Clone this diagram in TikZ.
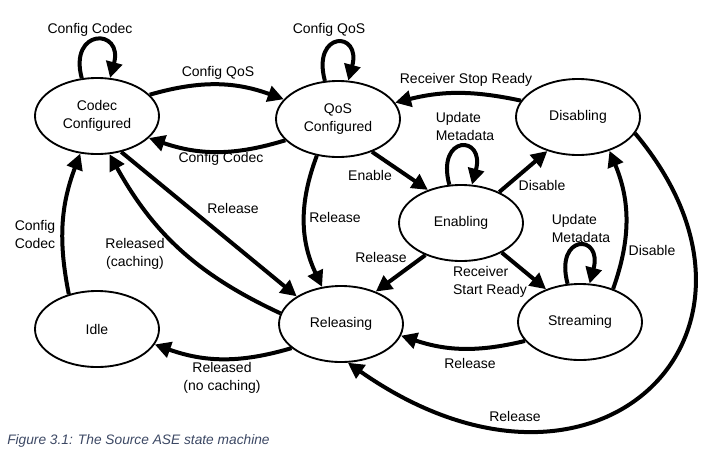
\documentclass[tikz,border=0pt]{standalone}
\usepackage{fontspec}
\setmainfont{Liberation Sans}
\usetikzlibrary{shapes.geometric,arrows.meta}
\definecolor{captionblue}{RGB}{60,72,100}

\begin{document}
\begin{tikzpicture}[x=0.75pt,y=-0.75pt,
  font=\fontsize{10.5}{13.5}\selectfont,
  state/.style={ellipse,draw,line width=1.4pt,minimum width=93pt,minimum height=57pt,inner sep=0pt,align=center},
  trans/.style={-{Triangle[length=12pt,width=12pt]},line width=3pt},
  selfloop/.style={out=105,in=75,distance=39pt},
  lbl/.style={inner sep=0pt,align=center}]
\useasboundingbox (0,0) rectangle (713,461);

% States
\node[state] (codec) at (97,116) {Codec\\Configured};
\node[state] (qos) at (338,119) {QoS\\Configured};
\node[state] (dis) at (578,117) {Disabling};
\node[state] (enab) at (461,223) {Enabling};
\node[state] (str) at (580,322) {Streaming};
\node[state] (rel) at (341,324) {Releasing};
\node[state] (idle) at (97,329) {Idle};

% Configuration
\draw[trans] (codec.112) to[selfloop] (codec.71);
\draw[trans] (qos.109) to[selfloop] (qos.75);
\draw[trans] (codec.22) to[bend left=18] (qos.160);
\draw[trans] (qos.202) to[bend left=18] (codec.337);
\draw[trans] (idle.129) to[bend left=16] (codec.246);
\node[lbl] (lccself) at (90,30) {Config Codec};
\node[lbl] (lqosself) at (329,30) {Config QoS};
\node[lbl] (lcq) at (218,73) {Config QoS};
\node[lbl] (lqc) at (221,159) {Config Codec};
\node[lbl] (lic) at (35,234) {Config\\Codec};

% Release
\draw[trans] (codec.304) -- (rel.148);
\draw[trans] (rel.170) to[bend left=18] (codec.288);
\draw[trans] (rel.206) to[bend left=18] (idle.345);
\draw[trans] (qos.240) to[bend right=23] (rel.117);
\draw[trans] (enab.222) -- (rel.43);
\draw[trans] (str.199) to[bend left=16] (rel.349);
\draw[trans] (dis.344) .. controls +(-50:195pt) and +(-35:228pt) .. (rel.280);
\node[lbl] (lcr) at (233,208) {Release};
\node[lbl] (lrc) at (135,254) {Released\\(caching)};
\node[lbl] (lri) at (222,378) {Released\\(no caching)};
\node[lbl] (lqr) at (335,217) {Release};
\node[lbl] (ler) at (381,257) {Release};
\node[lbl] (lsr) at (470,363) {Release};
\node[lbl] (ldr) at (515,416) {Release};

% Enable, stream, disable
\draw[trans] (qos.316) -- (enab.135);
\draw[trans] (enab.107) to[selfloop] (enab.74);
\draw[trans] (enab.39) -- (dis.228);
\draw[trans] (enab.324) -- (str.136);
\draw[trans] (str.108) to[selfloop] (str.76);
\draw[trans] (str.45) to[bend right=21] (dis.313);
\draw[trans] (dis.164) to[bend right=13] (qos.16);
\node[lbl] (lqe) at (370,175) {Enable};
\node[lbl,align=left] (leself) at (465,126) {Update\\Metadata};
\node[lbl] (led) at (542,185) {Disable};
\node[lbl,align=left] (les) at (490,282) {Receiver\\Start Ready};
\node[lbl,align=left] (lsself) at (581,228) {Update\\Metadata};
\node[lbl] (lsd) at (652,250) {Disable};
\node[lbl] (ldq) at (466,80) {Receiver Stop Ready};

% Caption
\node[anchor=west,inner sep=0pt,text=captionblue,font=\fontsize{10.3}{12}\selectfont\itshape] (caption) at (7,441) {Figure 3.1: The Source ASE state machine};
\end{tikzpicture}
\end{document}
